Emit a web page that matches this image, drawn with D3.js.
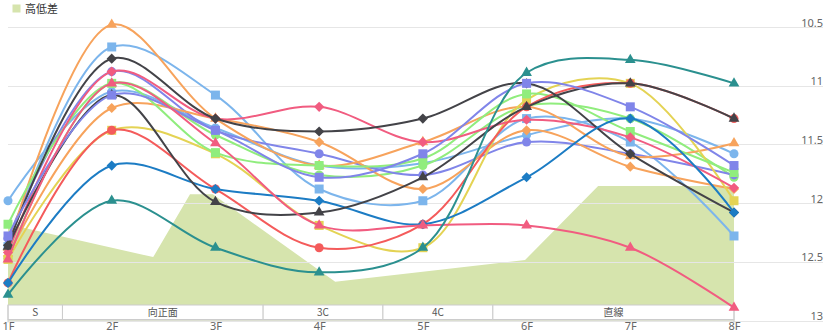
<!DOCTYPE html>
<html><head><meta charset="utf-8">
<script src="https://cdn.jsdelivr.net/npm/d3@7/dist/d3.min.js"></script>
<style>
html,body{margin:0;padding:0;background:#fff;}
svg{display:block;font-family:"Noto Sans CJK JP","Noto Sans",sans-serif;}
</style></head>
<body><svg id="c" width="825" height="332"></svg>
<script>
// ---- data ----
const categories = ["1F","2F","3F","4F","5F","6F","7F","8F"];
const yTicks = [10.5, 11, 11.5, 12, 12.5, 13];

const lightBlueCircle = [11.98, 11.05, 11.36, 11.68, 11.66, 11.42, 11.28, 11.58];
const lightBlueSquare = [12.37, 10.67, 11.08, 11.88, 11.98, 11.28, 11.48, 12.28];
const greenCircle     = [12.47, 10.98, 11.42, 11.76, 11.68, 11.17, 11.28, 11.78];
const greenSquare     = [12.18, 10.98, 11.57, 11.68, 11.62, 11.07, 11.39, 11.74];
const purpleCircle    = [12.30, 10.88, 11.38, 11.58, 11.76, 11.48, 11.58, 11.76];
const purpleSquare    = [12.28, 11.08, 11.38, 11.78, 11.58, 10.98, 11.18, 11.68];
const orangeDiamond   = [12.45, 11.19, 11.28, 11.48, 11.88, 11.38, 11.69, 11.88];
const orangeTriangle  = [12.38, 10.48, 11.28, 11.68, 11.48, 11.18, 11.60, 11.49];
const yellowSquare    = [12.48, 11.38, 11.58, 12.19, 12.38, 11.12, 10.98, 11.98];
const pinkDiamond     = [12.42, 10.88, 11.28, 11.18, 11.48, 11.29, 11.44, 11.87];
const redCircle       = [12.68, 11.38, 11.88, 12.38, 12.18, 11.18, 10.98, 11.28];
const blackDiamond    = [12.36, 10.77, 11.28, 11.39, 11.28, 10.98, 11.58, 12.08];
const blueDiamond     = [12.68, 11.68, 11.88, 11.98, 12.18, 11.78, 11.28, 12.08];
const blackTriangle   = [12.37, 11.08, 11.99, 12.08, 11.78, 11.18, 10.98, 11.28];
const pinkTriangle    = [12.48, 10.98, 11.49, 12.19, 12.19, 12.19, 12.38, 12.89];
const tealTriangle    = [12.78, 11.98, 12.38, 12.59, 12.38, 10.89, 10.78, 10.98];

// elevation (高低差) profile: distance (m) and height (m)
const elevDistance = [200, 480, 551, 595, 831, 1197, 1338, 1600];
const elevHeight   = [1.64, 1.08, 2.15, 2.15, 0.66, 1.03, 2.29, 2.29];

// course sections along distance
const sectionNames  = ["S", "向正面", "3C", "4C", "直線"];
const sectionBounds = [200, 305, 692, 923, 1135, 1600];

const seriesList = [
  {values: lightBlueCircle, color: "#7cb5ec", shape: "circle"},
  {values: lightBlueSquare, color: "#7cb5ec", shape: "square"},
  {values: greenCircle,     color: "#90ed7d", shape: "circle"},
  {values: purpleCircle,    color: "#8085e9", shape: "circle"},
  {values: orangeDiamond,   color: "#f7a35c", shape: "diamond"},
  {values: orangeTriangle,  color: "#f7a35c", shape: "triangle"},
  {values: yellowSquare,    color: "#e4d354", shape: "square"},
  {values: greenSquare,     color: "#90ed7d", shape: "square"},
  {values: pinkDiamond,     color: "#f15c80", shape: "diamond"},
  {values: redCircle,       color: "#f45b5b", shape: "circle"},
  {values: blackDiamond,    color: "#434348", shape: "diamond"},
  {values: blueDiamond,     color: "#1c7cc4", shape: "diamond"},
  {values: blackTriangle,   color: "#434348", shape: "triangle"},
  {values: purpleSquare,    color: "#8085e9", shape: "square"},
  {values: pinkTriangle,    color: "#f15c80", shape: "triangle"},
  {values: tealTriangle,    color: "#2b908f", shape: "triangle"}
];

// ---- layout ----
const svg = d3.select("#c");
const plotLeft = 8, plotRight = 734, plotTop = 27, plotBottom = 320.5;
const x = d3.scalePoint().domain(categories).range([plotLeft, plotRight]);
const y = d3.scaleLinear().domain([10.5, 13]).range([plotTop, plotBottom]);
const xDist = d3.scaleLinear().domain([200, 1600]).range([plotLeft, plotRight]);
const yElev = d3.scaleLinear().domain([0, 5]).range([plotBottom, plotTop]);

// elevation area
const elevPts = elevDistance.map((d, i) => [d, elevHeight[i]]);
svg.append("path")
  .datum(elevPts)
  .attr("fill", "#d6e4ad")
  .attr("d", d3.area().x(d => xDist(d[0])).y0(plotBottom).y1(d => yElev(d[1])));

// grid lines + right labels
const yAxis = d3.axisRight(y).tickValues(yTicks).tickSize(815).tickFormat(d3.format("~g"));
const gy = svg.append("g").attr("transform", `translate(${plotLeft},0)`).call(yAxis);
gy.select(".domain").remove();
gy.selectAll(".tick line").attr("stroke", "#e6e6e6").attr("stroke-width", 1)
  .attr("shape-rendering", "crispEdges");
gy.selectAll(".tick text")
  .attr("x", 815).attr("y", -1).attr("dy", 0)
  .attr("text-anchor", "end")
  .attr("fill", "#666").attr("font-size", 11)
  .attr("font-family", '"Noto Sans",sans-serif');

// section band
const bandTop = 305, bandBottom = 319.5;
const band = svg.append("g");
sectionNames.forEach((name, i) => {
  const x0 = xDist(sectionBounds[i]), x1 = xDist(sectionBounds[i + 1]);
  band.append("rect").attr("x", x0).attr("y", bandTop).attr("width", x1 - x0)
    .attr("height", bandBottom - bandTop).attr("fill", "#fff")
    .attr("stroke", "#cccccc").attr("stroke-width", 1);
  band.append("text").attr("x", (x0 + x1) / 2).attr("y", bandTop + 11)
    .attr("text-anchor", "middle").attr("font-size", 10).attr("fill", "#555")
    .text(name);
});

// x axis
const xAxis = d3.axisBottom(x).tickSize(0).tickPadding(4);
const gx = svg.append("g").attr("transform", `translate(0,${bandBottom})`).call(xAxis);
gx.select(".domain").attr("stroke", "#cccccc");
gx.selectAll(".tick text").attr("fill", "#666").attr("font-size", 11)
  .attr("font-family", '"Noto Sans",sans-serif').attr("dy", "0.6em");
svg.append("line").attr("x1", plotLeft).attr("x2", plotLeft).attr("y1", bandTop).attr("y2", bandBottom + 3)
  .attr("stroke", "#cccccc");
svg.append("line").attr("x1", plotRight).attr("x2", plotRight).attr("y1", bandTop).attr("y2", bandBottom + 3)
  .attr("stroke", "#cccccc");

// series
const line = d3.line().x((d, i) => x(categories[i])).y(d => y(d))
  .curve(d3.curveCatmullRom.alpha(0.5));
const symbolFor = {
  circle: d3.symbol().type(d3.symbolCircle).size(64)(),
  square: d3.symbol().type(d3.symbolSquare).size(81)(),
  diamond: d3.symbol().type(d3.symbolSquare).size(52)(),
  triangle: d3.symbol().type(d3.symbolTriangle).size(50)()
};
const sg = svg.append("g");
seriesList.forEach(s => {
  const g = sg.append("g");
  g.append("path").attr("d", line(s.values)).attr("fill", "none")
    .attr("stroke", s.color).attr("stroke-width", 2).attr("stroke-linejoin", "round");
  g.selectAll("path.m").data(s.values).join("path").attr("class", "m")
    .attr("d", symbolFor[s.shape])
    .attr("transform", (d, i) => `translate(${x(categories[i])},${y(d)})` + (s.shape === "diamond" ? " rotate(45)" : ""))
    .attr("fill", s.color);
});

// legend
const lg = svg.append("g");
lg.append("rect").attr("x", 12.5).attr("y", 4.5).attr("width", 8).attr("height", 8).attr("fill", "#d6e4ad");
lg.append("text").attr("x", 25).attr("y", 13).attr("font-size", 11).attr("fill", "#333").text("高低差");
</script>
</body></html>
